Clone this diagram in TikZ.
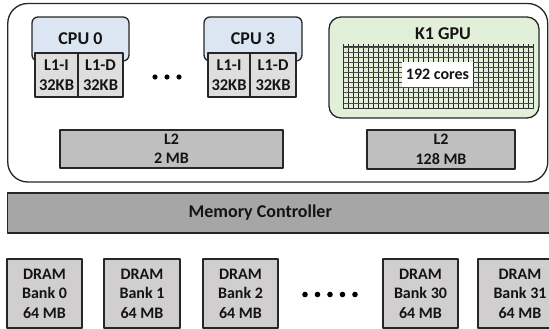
\documentclass[tikz,border=0pt]{standalone}
\usepackage{fontspec}
\setmainfont{Carlito}
\definecolor{cpublue}{RGB}{220,230,242}
\definecolor{lonegray}{RGB}{222,222,222}
\definecolor{ltwogray}{RGB}{191,191,191}
\definecolor{mcgray}{RGB}{166,166,166}
\definecolor{dramgray}{RGB}{208,206,206}
\definecolor{gpugreen}{RGB}{226,239,217}
\definecolor{edge}{RGB}{38,38,38}
\begin{document}
\begin{tikzpicture}[x=1pt,y=-1pt,line join=round,
  box/.style={draw=edge,line width=1.3pt,inner sep=0pt,outer sep=0pt},
  big/.style={font=\bfseries\fontsize{18}{21}\selectfont,text=black!92,align=center,inner sep=0pt},
  small/.style={font=\bfseries\fontsize{16}{19.5}\selectfont,text=black!92,align=center,inner sep=0pt},
  lone/.style={font=\bfseries\fontsize{16.5}{20}\selectfont,text=black!92,align=center,inner sep=0pt},
  vline/.style={draw=black!85,line width=0.8pt},
  hline/.style={draw=black!70,line width=0.8pt},
  dot/.style={fill=black}]
\useasboundingbox (0,0) rectangle (549,329);
\clip (0,0) rectangle (549,329);

% SoC outer frame
\node[box,rounded corners=20pt,minimum width=540pt,minimum height=178.5pt] (soc) at (277.75,92.75) {};

% CPU 0
\node[box,fill=cpublue,rounded corners=6pt,minimum width=97pt,minimum height=44pt,big] (cpu0) at (80.5,39) {CPU 0};
\node[box,fill=lonegray,minimum width=43pt,minimum height=44pt,lone] (l1i0) at (56.5,75) {L1-I\\32KB};
\node[box,fill=lonegray,minimum width=45pt,minimum height=44pt,lone] (l1d0) at (100.5,75) {L1-D\\32KB};

% CPU 3
\node[box,fill=cpublue,rounded corners=6pt,minimum width=98pt,minimum height=44pt,big] (cpu3) at (253,39) {CPU 3};
\node[box,fill=lonegray,minimum width=42pt,minimum height=44pt,lone] (l1i3) at (229,75) {L1-I\\32KB};
\node[box,fill=lonegray,minimum width=46pt,minimum height=44pt,lone] (l1d3) at (273,75) {L1-D\\32KB};

% dots between CPUs
\fill[dot] (155,77) circle (2.6pt) (167,77) circle (2.6pt) (179,77) circle (2.6pt);

% CPU L2
\node[box,fill=ltwogray,minimum width=223pt,minimum height=38pt,small] (l2cpu) at (171.5,149) {L2\\2 MB};

% GPU
\node[box,fill=gpugreen,rounded corners=12pt,minimum width=210pt,minimum height=101pt] (gpu) at (434,67.5) {};
\node[big] (gputitle) at (443,33.5) {K1 GPU};
\foreach \i in {0,...,38}
  \draw[vline] ({343+5*\i},44.5) -- ({343+5*\i},108);
\foreach \j in {0,...,12}
  \draw[hline] (343,{47+61/12*\j}) -- (533,{47+61/12*\j});
\draw[draw=black!80,line width=1pt] (343,47) rectangle (533,108);
\node[fill=white,minimum width=71pt,minimum height=25pt,small,inner sep=0pt] (cores) at (437.5,74.5) {192 cores};

% GPU L2
\node[box,fill=ltwogray,minimum width=148pt,minimum height=39pt,small] (l2gpu) at (441,149.5) {L2\\128 MB};

% Memory controller
\node[box,fill=mcgray,minimum width=560pt,minimum height=40pt] (mc) at (287.5,213) {};
\node[big] (mctext) at (260.3,212.5) {Memory Controller};

% DRAM banks
\node[box,fill=dramgray,minimum width=75pt,minimum height=69pt,small] (bank0) at (44.5,293.5) {DRAM\\Bank 0\\64 MB};
\node[box,fill=dramgray,minimum width=76pt,minimum height=69pt,small] (bank1) at (142,293.5) {DRAM\\Bank 1\\64 MB};
\node[box,fill=dramgray,minimum width=75pt,minimum height=69pt,small] (bank2) at (240.5,293.5) {DRAM\\Bank 2\\64 MB};
\node[box,fill=dramgray,minimum width=75pt,minimum height=69pt,small] (bank30) at (420.5,293.5) {DRAM\\Bank 30\\64 MB};
\node[box,fill=dramgray,minimum width=84pt,minimum height=69pt,small] (bank31) at (520,293.5) {DRAM\\Bank 31\\64 MB};

% dots between banks
\foreach \x in {305,317.5,330,342.5,355}
  \fill[dot] (\x,294.5) circle (2.8pt);
\end{tikzpicture}
\end{document}
